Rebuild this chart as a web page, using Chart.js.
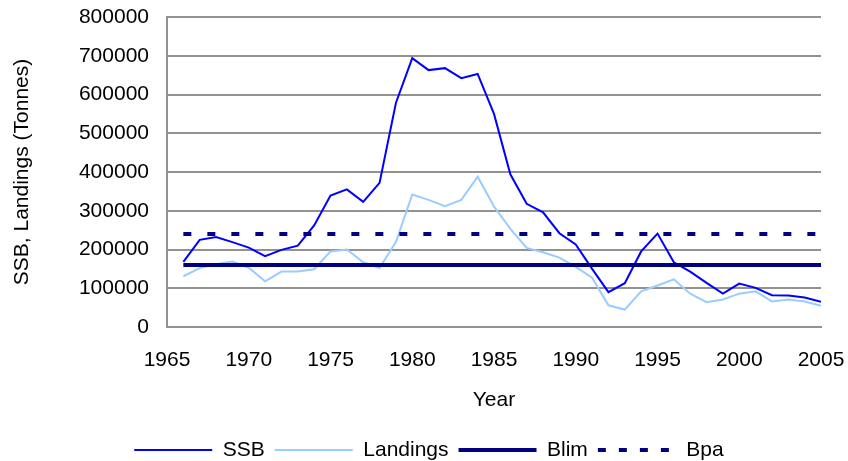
<!DOCTYPE html>
<html>
<head>
<meta charset="utf-8">
<script src="https://cdn.jsdelivr.net/npm/chart.js@4"></script>
<style>
  html, body { margin: 0; padding: 0; background: #fff; }
  #wrap { width: 848px; height: 461px; }
</style>
</head>
<body>
<div id="wrap"><canvas id="chart" width="848" height="461"></canvas></div>
<script>
const YEARS = [1966, 1967, 1968, 1969, 1970, 1971, 1972, 1973, 1974, 1975,
  1976, 1977, 1978, 1979, 1980, 1981, 1982, 1983, 1984, 1985,
  1986, 1987, 1988, 1989, 1990, 1991, 1992, 1993, 1994, 1995,
  1996, 1997, 1998, 1999, 2000, 2001, 2002, 2003, 2004, 2005];

// SSB (tonnes)
const SSB = [168000, 225000, 232000, 219000, 205000, 183000, 199000, 210000, 262000, 339000,
  355000, 323000, 372000, 578000, 694000, 663000, 668000, 642000, 653000, 550000,
  394000, 318000, 296000, 242000, 213000, 150000, 90000, 113000, 195000, 241000,
  167000, 143000, 114000, 86000, 112000, 101000, 82000, 81000, 76000, 65000];

// Landings (tonnes)
const LANDINGS = [131000, 152000, 162000, 169000, 153000, 118000, 143000, 143000, 149000, 195000,
  200000, 167000, 152000, 219000, 342000, 328000, 312000, 328000, 388000, 311000,
  253000, 204000, 193000, 179000, 155000, 127000, 56000, 45000, 92000, 107000,
  123000, 86000, 64000, 71000, 86000, 92000, 66000, 71000, 66000, 55000];

const BLIM = 160000;
const BPA = 240000;

const SERIES_NAMES = ["SSB", "Landings", "Blim", "Bpa"];

function toPoints(values) {
  return values.map((v, i) => ({ x: YEARS[i], y: v }));
}

function refLine(level) {
  return [
    { x: YEARS[0], y: level },
    { x: YEARS[YEARS.length - 1], y: level },
  ];
}

const FONT = { family: "'Liberation Sans', Arial, sans-serif", size: 21 };
const GRID_COLOR = "#929292";

const ctx = document.getElementById("chart").getContext("2d");
const chart = new Chart(ctx, {
  type: "line",
  data: {
    datasets: [
      {
        label: SERIES_NAMES[0],
        data: toPoints(SSB),
        borderColor: "#0000ff",
        borderWidth: 2,
        pointRadius: 0,
        order: 2,
      },
      {
        label: SERIES_NAMES[1],
        data: toPoints(LANDINGS),
        borderColor: "#99ccff",
        borderWidth: 2,
        pointRadius: 0,
        order: 3,
      },
      {
        label: SERIES_NAMES[2],
        data: refLine(BLIM),
        borderColor: "#000080",
        borderWidth: 4,
        pointRadius: 0,
        order: 1,
      },
      {
        label: SERIES_NAMES[3],
        data: refLine(BPA),
        borderColor: "#000080",
        borderWidth: 4,
        borderDash: [8, 16],
        legendDash: [8, 13],
        pointRadius: 0,
        order: 0,
      },
    ],
  },
  options: {
    responsive: false,
    animation: false,
    devicePixelRatio: 1,
    layout: { padding: { left: 37, right: 27, top: 17, bottom: 0 } },
    plugins: {
      tooltip: { enabled: false },
      legend: {
        position: "bottom",
        maxHeight: 31.5,
        labels: {
          usePointStyle: true,
          pointStyle: "line",
          pointStyleWidth: 78,
          padding: 10,
          color: "#000",
          font: FONT,
          // 凡例の線は系列の線種に合わせる
          generateLabels: (c) =>
            c.data.datasets.map((ds, i) => ({
              text: ds.label,
              strokeStyle: ds.borderColor,
              fillStyle: ds.borderColor,
              lineWidth: ds.borderWidth,
              lineDash: ds.legendDash || ds.borderDash || [],
              pointStyle: "line",
              fontColor: "#000",
              hidden: false,
              datasetIndex: i,
            })),
        },
      },
    },
    scales: {
      x: {
        type: "linear",
        min: 1965,
        max: 2005,
        afterFit: (scale) => { scale.height = 102.5; },
        ticks: {
          stepSize: 5,
          padding: 0,
          color: "#000",
          font: FONT,
          maxRotation: 0,
          callback: (v) => String(v),
        },
        grid: { display: false, drawTicks: true, tickLength: 20.5, tickColor: "transparent" },
        border: { display: true, color: GRID_COLOR, width: 2 },
        title: {
          display: true,
          text: "Year",
          color: "#000",
          font: FONT,
          padding: { top: 0, bottom: 16.4 },
        },
      },
      y: {
        min: 0,
        max: 800000,
        afterFit: (scale) => { scale.width = 130; },
        ticks: {
          stepSize: 100000,
          padding: 0,
          color: "#000",
          font: FONT,
          callback: (v) => String(v),
        },
        grid: { color: GRID_COLOR, lineWidth: 2, drawTicks: true, tickLength: 18, tickColor: "transparent" },
        border: { display: true, color: GRID_COLOR, width: 2 },
        title: {
          display: true,
          text: "SSB, Landings (Tonnes)",
          color: "#000",
          font: FONT,
          padding: { top: -27.6, bottom: 0 },
        },
      },
    },
  },
});
</script>
</body>
</html>
